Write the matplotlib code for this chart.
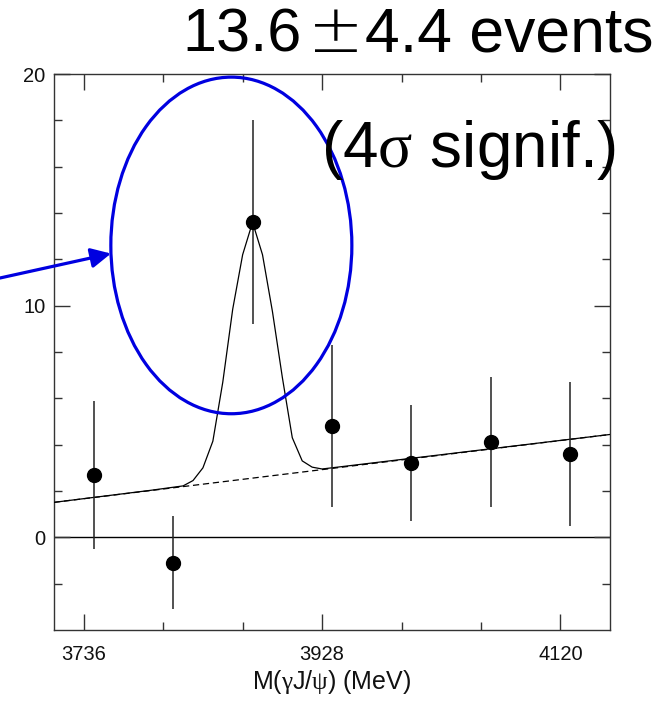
import matplotlib
matplotlib.use('Agg')
import matplotlib.pyplot as plt
from matplotlib.patches import Ellipse
from matplotlib.ticker import FixedLocator, NullFormatter
import numpy as np

plt.rcParams['font.family'] = ['Liberation Sans', 'DejaVu Sans']
plt.rcParams['mathtext.fontset'] = 'custom'
plt.rcParams['mathtext.rm'] = 'Liberation Serif'
plt.rcParams['mathtext.it'] = 'Liberation Serif:italic'

# binned data (bin centres, 64 MeV bins)
mass = [3744, 3808, 3872, 3936, 4000, 4064, 4128]
counts = [2.7, -1.1, 13.6, 4.8, 3.2, 4.1, 3.6]
errors = [3.2, 2.0, 4.4, 3.5, 2.5, 2.8, 3.1]

# fit curve (signal + background)
fit_x = [3712, 3790, 3816, 3824, 3832, 3840, 3848, 3856, 3864, 3872,
         3880, 3888, 3896, 3904, 3912, 3920, 3928, 4160]
fit_y = [1.51, 2.03, 2.22, 2.45, 3.00, 4.15, 6.70, 9.85, 12.20, 13.60,
         12.20, 9.75, 6.90, 4.30, 3.30, 3.03, 2.95, 4.44]
# background only
bkg_x = [3712, 4160]
bkg_y = [1.51, 4.44]

xmajor = [3736, 3928, 4120]
xminor = [3800, 3864, 3992, 4056]
ymajor = [0, 10, 20]
yminor = [-2, 2, 4, 6, 8, 12, 14, 16, 18]

W, H = 670, 701
def px(x, y):
    return x / W, 1 - y / H

fig = plt.figure(figsize=(6.7, 7.01), dpi=100)
ax = fig.add_axes([54/W, 1-630/H, 556/W, 556/H])

ax.axhline(0, color='black', lw=1.0, zorder=1)
ax.plot(bkg_x, bkg_y, color='black', lw=0.9, ls=(0, (5, 3)), zorder=2)
ax.plot(fit_x, fit_y, color='black', lw=0.9, zorder=3)
ax.errorbar(mass, counts, yerr=errors, fmt='o', color='black',
            ecolor='#222222', elinewidth=1.1, capsize=0, markersize=10, zorder=4)

ax.set_xlim(3712, 4160)
ax.set_ylim(-4, 20)

ax.xaxis.set_major_locator(FixedLocator(xmajor))
ax.xaxis.set_minor_locator(FixedLocator(xminor))
ax.yaxis.set_major_locator(FixedLocator(ymajor))
ax.yaxis.set_minor_locator(FixedLocator(yminor))
ax.yaxis.set_minor_formatter(NullFormatter())
ax.tick_params(which='both', direction='in', top=True, right=True,
               color='#333333', width=1.0, labelcolor='#111111')
ax.tick_params(axis='x', which='major', length=11.5, labelsize=14.5, pad=11)
ax.tick_params(axis='y', which='major', length=11.5, labelsize=14.5, pad=6)
ax.tick_params(which='minor', length=6)
for s in ax.spines.values():
    s.set_color('#333333')
    s.set_linewidth(1.0)

# blue ellipse around the peak and arrow pointing to it
ell = Ellipse((3854.9, 12.6), 194.2, 14.53, fill=False, edgecolor='#0000e0',
              lw=2.3, zorder=5, clip_on=False)
ax.add_patch(ell)
ax.annotate('', xy=(3757.9, 12.25), xycoords='data',
            xytext=(0.0, 1 - 278/H), textcoords='figure fraction',
            arrowprops=dict(arrowstyle='-|>,head_length=0.6,head_width=0.3',
                            color='#0000e0', lw=2.3, mutation_scale=20,
                            shrinkA=0, shrinkB=0))

# big annotation texts
fig.text(*px(302, 51.7), '13.6', fontsize=44, ha='right', va='baseline')
fig.text(*px(335.5, 51.7), '\u00b1', fontsize=48, ha='center', va='baseline',
         family=['DejaVu Sans'], fontweight='light')
fig.text(*px(365, 51.7), '4.4 events', fontsize=45, ha='left', va='baseline')
fig.text(*px(321, 166.7), r'(4$\mathrm{\sigma}$ signif.)', fontsize=46,
         ha='left', va='baseline')

fig.text(*px(332, 689), r'M($\mathrm{\gamma}$J/$\mathrm{\psi}$) (MeV)',
         fontsize=18, ha='center', va='baseline', color='#111111')

fig.savefig('out.png', dpi=100)
